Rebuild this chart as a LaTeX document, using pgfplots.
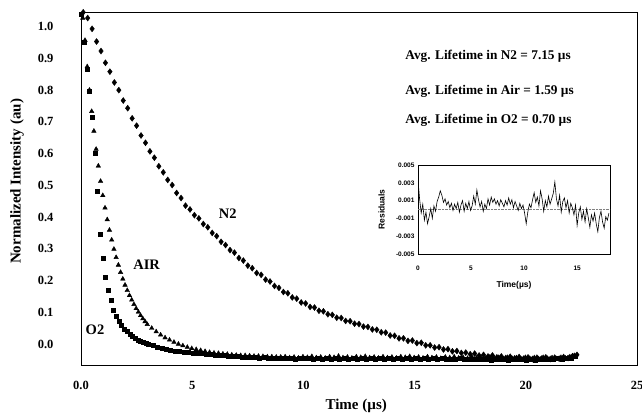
\documentclass[border=0pt]{standalone}
\usepackage{fontspec}
\setmainfont{Liberation Serif}
\setsansfont{Liberation Sans}
\usepackage{pgfplots}
\pgfplotsset{compat=1.18}
\begin{document}
\begin{tikzpicture}
\path[use as bounding box] (-81pt,-51pt) rectangle (561pt,365pt);
\begin{axis}[
  at={(0pt,0pt)}, anchor=south west,
  scale only axis, width=556pt, height=353pt,
  xmin=0, xmax=25, ymin=-0.066, ymax=1.046,
  xtick={0,5,10,15,20,25}, xticklabels={0.0,5,10,15,20,25},
  ytick={0,0.1,0.2,0.3,0.4,0.5,0.6,0.7,0.8,0.9,1.0},
  yticklabels={0.0,0.1,0.2,0.3,0.4,0.5,0.6,0.7,0.8,0.9,1.0},
  major tick length=0pt,
  tick label style={font=\fontsize{12.5}{13}\selectfont\bfseries},
  xticklabel style={yshift=-13pt},
  yticklabel style={xshift=-24pt},
  axis line style={line width=0.7pt},
  xlabel={Time (µs)}, ylabel={Normalized Intensity (au)},
  label style={font=\fontsize{15}{16}\selectfont\bfseries},
  xlabel style={at={(axis description cs:0.495,-0.116)}, anchor=center},
  ylabel style={at={(axis description cs:-0.115,0.52)}, anchor=center},
]
% N2
\addplot[only marks, mark=diamond*, mark size=3pt, black] table {
0.1 1.045
0.3 1.027
0.5 0.993
0.7 0.953
0.9 0.923
1.1 0.886
1.3 0.858
1.5 0.824
1.7 0.800
1.9 0.767
2.1 0.743
2.3 0.711
2.5 0.688
2.7 0.657
2.9 0.634
3.1 0.607
3.3 0.587
3.5 0.560
3.7 0.541
3.9 0.517
4.1 0.501
4.3 0.476
4.5 0.460
4.7 0.436
4.9 0.424
5.1 0.406
5.3 0.396
5.5 0.378
5.7 0.368
5.9 0.350
6.1 0.340
6.3 0.322
6.5 0.312
6.7 0.296
6.9 0.288
7.1 0.271
7.3 0.263
7.5 0.247
7.7 0.239
7.9 0.224
8.1 0.218
8.3 0.203
8.5 0.197
8.7 0.183
8.9 0.177
9.1 0.164
9.3 0.160
9.5 0.147
9.7 0.143
9.9 0.131
10.1 0.128
10.3 0.117
10.5 0.115
10.7 0.105
10.9 0.103
11.1 0.094
11.3 0.092
11.5 0.083
11.7 0.082
11.9 0.073
12.1 0.072
12.3 0.064
12.5 0.063
12.7 0.055
12.9 0.054
13.1 0.046
13.3 0.045
13.5 0.037
13.7 0.036
13.9 0.027
14.1 0.026
14.3 0.018
14.5 0.018
14.7 0.010
14.9 0.011
15.1 0.003
15.3 0.004
15.5 -0.004
15.7 -0.004
15.9 -0.011
16.1 -0.010
16.3 -0.017
16.5 -0.016
16.7 -0.023
16.9 -0.022
17.1 -0.028
17.3 -0.027
17.5 -0.032
17.7 -0.030
17.9 -0.036
18.1 -0.034
18.3 -0.039
18.5 -0.036
18.7 -0.042
18.9 -0.039
19.1 -0.044
19.3 -0.040
19.5 -0.045
19.7 -0.041
19.9 -0.046
20.1 -0.042
20.3 -0.047
20.5 -0.043
20.7 -0.046
20.9 -0.042
21.1 -0.047
21.3 -0.043
21.5 -0.046
21.7 -0.041
21.9 -0.044
22.1 -0.038
22.3 -0.034
};
% AIR
\addplot[only marks, mark=triangle*, mark size=2.6pt, black] table {
0.08 1.027
0.18 0.957
0.28 0.874
0.38 0.800
0.48 0.733
0.58 0.671
0.68 0.614
0.78 0.561
0.88 0.513
0.98 0.468
1.08 0.429
1.18 0.392
1.28 0.359
1.38 0.328
1.48 0.299
1.58 0.273
1.68 0.249
1.78 0.226
1.88 0.205
1.98 0.186
2.08 0.169
2.18 0.153
2.28 0.139
2.38 0.125
2.48 0.112
2.58 0.101
2.68 0.090
2.78 0.080
2.88 0.071
2.98 0.062
3.18 0.050
3.38 0.039
3.58 0.029
3.78 0.020
3.98 0.013
4.18 0.006
4.38 0.000
4.58 -0.005
4.78 -0.010
4.98 -0.014
5.18 -0.017
5.38 -0.020
5.58 -0.023
5.78 -0.026
5.98 -0.028
6.18 -0.029
6.38 -0.031
6.58 -0.032
6.78 -0.034
6.98 -0.035
7.18 -0.036
7.38 -0.036
7.58 -0.037
7.78 -0.038
7.98 -0.038
8.18 -0.039
8.38 -0.040
8.58 -0.040
8.78 -0.041
8.98 -0.041
9.18 -0.040
9.38 -0.043
9.58 -0.041
9.78 -0.044
9.98 -0.040
10.18 -0.042
10.38 -0.039
10.58 -0.043
10.78 -0.041
10.98 -0.044
11.18 -0.040
11.38 -0.042
11.58 -0.038
11.78 -0.043
11.98 -0.041
12.18 -0.044
12.38 -0.040
12.58 -0.042
12.78 -0.039
12.98 -0.043
13.18 -0.041
13.38 -0.044
13.58 -0.040
13.78 -0.043
13.98 -0.041
14.18 -0.044
14.38 -0.040
14.58 -0.042
14.78 -0.039
14.98 -0.043
15.18 -0.041
15.38 -0.044
15.58 -0.040
15.78 -0.043
15.98 -0.041
16.18 -0.045
16.38 -0.041
16.58 -0.043
16.78 -0.040
16.98 -0.044
17.18 -0.042
17.38 -0.045
17.58 -0.041
17.78 -0.044
17.98 -0.042
18.18 -0.045
18.38 -0.041
18.58 -0.044
18.78 -0.042
18.98 -0.046
19.18 -0.042
19.38 -0.045
19.58 -0.043
19.78 -0.046
19.98 -0.042
20.18 -0.045
20.38 -0.043
20.58 -0.046
20.78 -0.042
20.98 -0.045
21.18 -0.043
21.38 -0.046
21.58 -0.042
21.78 -0.044
21.98 -0.040
22.18 -0.036
};
% O2
\addplot[only marks, mark=square*, mark size=2pt, black] table {
0.03 1.040
0.15 0.950
0.27 0.865
0.39 0.795
0.51 0.715
0.63 0.600
0.75 0.480
0.87 0.345
0.99 0.270
1.11 0.212
1.23 0.170
1.35 0.137
1.47 0.108
1.59 0.088
1.71 0.072
1.83 0.059
1.95 0.048
2.07 0.039
2.19 0.031
2.31 0.024
2.43 0.018
2.55 0.013
2.67 0.009
2.79 0.005
2.91 0.002
3.03 -0.001
3.23 -0.005
3.43 -0.010
3.63 -0.014
3.83 -0.017
4.03 -0.020
4.23 -0.022
4.43 -0.024
4.63 -0.026
4.83 -0.027
5.03 -0.028
5.23 -0.029
5.43 -0.030
5.63 -0.031
5.83 -0.033
6.03 -0.034
6.23 -0.035
6.43 -0.036
6.63 -0.037
6.83 -0.038
7.03 -0.039
7.23 -0.040
7.43 -0.041
7.63 -0.042
7.83 -0.041
8.03 -0.043
8.23 -0.042
8.43 -0.044
8.63 -0.043
8.83 -0.045
9.03 -0.044
9.23 -0.046
9.43 -0.044
9.63 -0.047
9.83 -0.045
10.03 -0.046
10.23 -0.044
10.43 -0.047
10.63 -0.045
10.83 -0.048
11.03 -0.045
11.23 -0.047
11.43 -0.044
11.63 -0.047
11.83 -0.045
12.03 -0.048
12.23 -0.046
12.43 -0.047
12.63 -0.044
12.83 -0.047
13.03 -0.045
13.23 -0.048
13.43 -0.046
13.63 -0.047
13.83 -0.045
14.03 -0.048
14.23 -0.046
14.43 -0.048
14.63 -0.045
14.83 -0.047
15.03 -0.046
15.23 -0.048
15.43 -0.046
15.63 -0.049
15.83 -0.046
16.03 -0.048
16.23 -0.046
16.43 -0.049
16.63 -0.047
16.83 -0.048
17.03 -0.046
17.23 -0.049
17.43 -0.047
17.63 -0.049
17.83 -0.047
18.03 -0.049
18.23 -0.047
18.43 -0.050
18.63 -0.047
18.83 -0.049
19.03 -0.047
19.23 -0.050
19.43 -0.048
19.63 -0.049
19.83 -0.047
20.03 -0.050
20.23 -0.048
20.43 -0.050
20.63 -0.047
20.83 -0.049
21.03 -0.047
21.23 -0.049
21.43 -0.046
21.63 -0.048
21.83 -0.045
22.03 -0.043
22.23 -0.039
};
\node[font=\fontsize{14.5}{15}\selectfont\bfseries] at (axis cs:6.6,0.41) {N2};
\node[font=\fontsize{14.5}{15}\selectfont\bfseries] at (axis cs:2.95,0.249) {AIR};
\node[font=\fontsize{14.5}{15}\selectfont\bfseries] at (axis cs:0.63,0.044) {O2};
\node[anchor=west, font=\fontsize{13.3}{14}\selectfont\bfseries] at (axis cs:14.43,0.905) {Avg. Lifetime in N2 = 7.15 µs};
\node[anchor=west, font=\fontsize{13.3}{14}\selectfont\bfseries] at (axis cs:14.43,0.795) {Avg. Lifetime in Air = 1.59 µs};
\node[anchor=west, font=\fontsize{13.3}{14}\selectfont\bfseries] at (axis cs:14.43,0.706) {Avg. Lifetime in O2 = 0.70 µs};
\end{axis}
\begin{axis}[
  at={(337pt,111pt)}, anchor=south west,
  scale only axis, width=192pt, height=89pt,
  xmin=0, xmax=18.1, ymin=-0.005, ymax=0.005,
  xtick={0,5,10,15}, xticklabels={0,5,10,15},
  ytick={-0.005,-0.003,-0.001,0.001,0.003,0.005},
  yticklabels={-0.005,-0.003,-0.001,0.001,0.003,0.005},
  scaled y ticks=false,
  major tick length=0pt,
  tick label style={font=\sffamily\bfseries\fontsize{6.5}{7}\selectfont},
  xticklabel style={yshift=-8pt},
  axis background/.style={fill=white},
  axis line style={line width=0.6pt},
  xlabel={Time(µs)}, ylabel={Residuals},
  label style={font=\sffamily\bfseries\fontsize{8.5}{9}\selectfont},
  xlabel style={at={(axis description cs:0.5,-0.35)}, anchor=center},
  ylabel style={at={(axis description cs:-0.19,0.5)}, anchor=center},
]
\addplot[densely dotted, gray, line width=0.4pt] coordinates {(0,0) (18.1,0)};
\addplot[black, line width=0.6pt] table {
0.0 0.0033
0.15 0.0012
0.3 -0.0004
0.45 0.0006
0.6 -0.0012
0.75 -0.0003
0.9 -0.0016
1.05 -0.0008
1.2 0.0001
1.35 -0.0010
1.5 0.0004
1.65 -0.0002
1.8 0.0009
1.95 0.0014
2.1 0.0021
2.25 0.0016
2.4 0.0008
2.55 0.0012
2.7 0.0005
2.85 0.0009
3.0 0.0002
3.15 0.0007
3.3 -0.0001
3.45 0.0006
3.6 0.0001
3.75 0.0008
3.9 -0.0003
4.05 0.0005
4.2 0.0010
4.35 -0.0002
4.5 0.0007
4.65 0.0001
4.8 0.0009
4.95 -0.0001
5.1 0.0004
5.25 0.0015
5.4 0.0006
5.55 0.0022
5.7 0.0011
5.85 0.0003
6.0 0.0009
6.15 -0.0002
6.3 0.0006
6.45 0.0001
6.6 0.0012
6.75 0.0005
6.9 0.0014
7.05 0.0008
7.2 0.0012
7.35 0.0006
7.5 0.0010
7.65 0.0004
7.8 0.0011
7.95 0.0007
8.1 0.0003
8.25 0.0010
8.4 0.0005
8.55 0.0013
8.7 0.0006
8.85 0.0011
9.0 0.0002
9.15 0.0009
9.3 0.0004
9.45 -0.0001
9.6 0.0007
9.75 0.0001
9.9 0.0005
10.05 -0.0004
10.2 -0.0016
10.35 -0.0003
10.5 0.0006
10.65 0.0002
10.8 0.0011
10.95 0.0019
11.1 0.0008
11.25 0.0014
11.4 0.0004
11.55 0.0021
11.7 0.0012
11.85 -0.0002
12.0 0.0010
12.15 0.0003
12.3 0.0015
12.45 0.0006
12.6 0.0012
12.75 0.0018
12.9 0.0031
13.05 0.0012
13.2 0.0004
13.35 0.0016
13.5 -0.0003
13.65 0.0009
13.8 0.0013
13.95 0.0002
14.1 0.0010
14.25 -0.0004
14.4 0.0007
14.55 0.0002
14.7 -0.0006
14.85 0.0005
15.0 -0.0018
15.15 -0.0004
15.3 0.0003
15.45 -0.0011
15.6 -0.0002
15.75 -0.0014
15.9 0.0001
16.05 -0.0009
16.2 -0.0020
16.35 -0.0006
16.5 -0.0013
16.65 -0.0004
16.8 -0.0016
16.95 -0.0025
17.1 -0.0009
17.25 -0.0002
17.4 -0.0014
17.55 -0.0021
17.7 -0.0008
17.85 -0.0012
18.0 -0.0004
};
\end{axis}
\end{tikzpicture}
\end{document}
